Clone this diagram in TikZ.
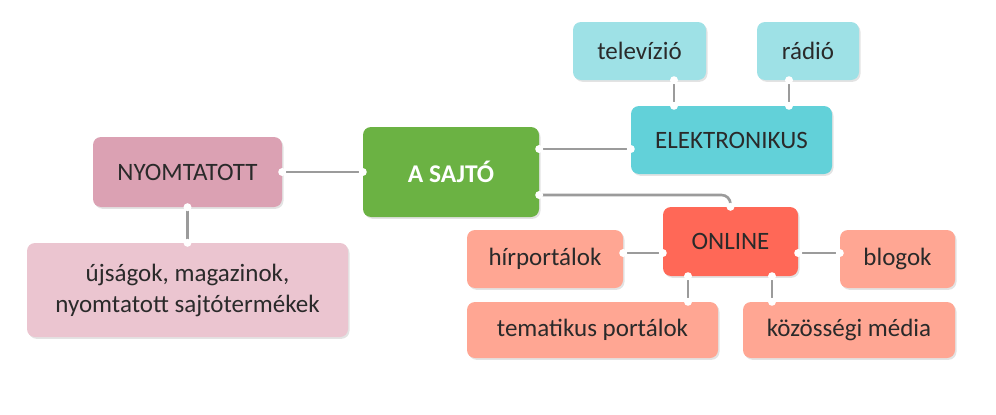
\documentclass[tikz,border=0pt]{standalone}
\usepackage{fontspec}
\setmainfont{Carlito}
\usetikzlibrary{shadows,calc}
\definecolor{cgreen}{HTML}{6BB243}
\definecolor{celek}{HTML}{62D1D9}
\definecolor{clight}{HTML}{9EE1E6}
\definecolor{cnyom}{HTML}{DBA1B3}
\definecolor{cujs}{HTML}{EBC5D0}
\definecolor{conl}{HTML}{FF6857}
\definecolor{csal}{HTML}{FFA693}
\definecolor{ctxt}{HTML}{2A2A2A}
\definecolor{cline}{HTML}{9B9B9B}
\begin{document}
\begin{tikzpicture}[x=1pt,y=-1pt,
  box/.style={rectangle, rounded corners=8pt, inner sep=0pt, text=ctxt,
    font=\fontsize{25}{31}\selectfont, align=center,
    drop shadow={opacity=0.22, shadow xshift=1.5pt, shadow yshift=-1.8pt}},
  conn/.style={draw=cline, line width=2.6pt},
  notch/.style={fill=white}]
\useasboundingbox[fill=white] (0,0) rectangle (996,415);
% boxes
\node[box, fill=cgreen, text=white, font=\fontsize{25.5}{30}\selectfont\bfseries,
  minimum width=176pt, minimum height=90pt] (sajto) at (451,172) {A SAJTÓ};
\node[box, fill=cnyom, minimum width=189pt, minimum height=70pt] (nyom) at (187.5,172) {NYOMTATOTT};
\node[box, fill=cujs, minimum width=321pt, minimum height=94pt] (ujsag) at (187.5,290)
  {újságok, magazinok,\\nyomtatott sajtótermékek};
\node[box, fill=celek, minimum width=201pt, minimum height=68pt] (elek) at (731.5,140) {ELEKTRONIKUS};
\node[box, fill=clight, minimum width=133pt, minimum height=58pt] (tv) at (639.5,51) {televízió};
\node[box, fill=clight, minimum width=102pt, minimum height=58pt] (radio) at (808,51) {rádió};
\node[box, fill=conl, minimum width=135pt, minimum height=69pt] (online) at (730.5,241.5) {ONLINE};
\node[box, fill=csal, minimum width=156pt, minimum height=58pt] (hir) at (545,259) {hírportálok};
\node[box, fill=csal, minimum width=115pt, minimum height=58pt] (blog) at (897.5,259) {blogok};
\node[box, fill=csal, minimum width=251pt, minimum height=56pt] (tema) at (592.5,330) {tematikus portálok};
\node[box, fill=csal, minimum width=212pt, minimum height=56pt] (kozos) at (849,330) {közösségi média};
% anchor points
\coordinate (s1) at ([yshift=23pt]sajto.east);
\coordinate (s2) at ([yshift=-23pt]sajto.east);
\coordinate (t1) at ([xshift=34.5pt]tv.south);
\coordinate (r1) at ([xshift=-19pt]radio.south);
\coordinate (o1) at ([yshift=-11.5pt]online.west);
\coordinate (o2) at ([yshift=-11.5pt]online.east);
\coordinate (o3) at ([xshift=-42.5pt]online.south);
\coordinate (o4) at ([xshift=41.5pt]online.south);
\coordinate (e1) at (s1 -| elek.west);
\coordinate (e2) at (t1 |- elek.north);
\coordinate (e3) at (r1 |- elek.north);
\coordinate (h1) at (o1 -| hir.east);
\coordinate (b1) at (o2 -| blog.west);
\coordinate (m1) at (o3 |- tema.north);
\coordinate (k1) at (o4 |- kozos.north);
% connectors
\draw[conn] (nyom.east) -- (sajto.west);
\draw[conn] (nyom.south) -- (ujsag.north);
\draw[conn] (s1) -- (e1);
\draw[conn, rounded corners=9pt] (s2) -| (online.north);
\draw[conn] (t1) -- (e2);
\draw[conn] (r1) -- (e3);
\draw[conn] (o1) -- (h1);
\draw[conn] (o2) -- (b1);
\draw[conn] (o3) -- (m1);
\draw[conn] (o4) -- (k1);
% notches
\foreach \p in {nyom.east, sajto.west, nyom.south, ujsag.north, s1, e1, s2, online.north,
  t1, e2, r1, e3, o1, h1, o2, b1, o3, m1, o4, k1}
  \fill[notch] (\p) circle (4pt);
\end{tikzpicture}
\end{document}
